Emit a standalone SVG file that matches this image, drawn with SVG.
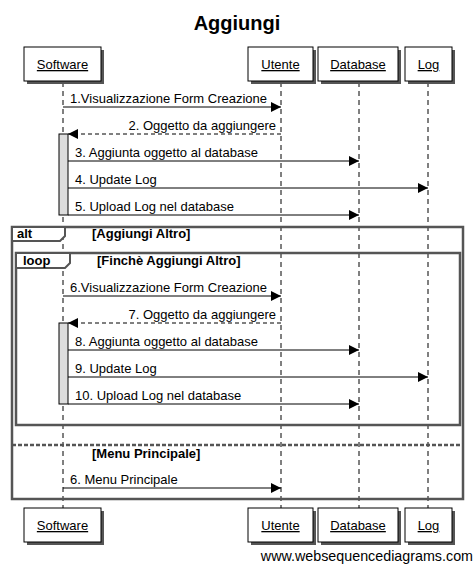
<svg xmlns="http://www.w3.org/2000/svg" width="474" height="565" viewBox="0 0 474 565">
<style>
text{font-family:"Liberation Sans",Arial,sans-serif;fill:#000}
.t{font-size:20px;font-weight:bold}
.p{font-size:13px;text-decoration:underline}
.m{font-size:13px}
.b{font-size:13px;font-weight:bold}
.w{font-size:14.3px}
.box{fill:#fff;stroke:#000;stroke-width:1}
.sh{fill:#555}
.life{stroke:#000;stroke-width:1;stroke-dasharray:5,4;fill:none}
.msg{stroke:#000;stroke-width:1;fill:none}
.dash{stroke:#000;stroke-width:1;stroke-dasharray:4,3;fill:none}
.act{fill:#ddd;stroke:#000;stroke-width:1}
.fr{fill:none;stroke:#555;stroke-width:2.5}
.tab{fill:#fff;stroke:#555;stroke-width:2}
.els{stroke:#555;stroke-width:2.5;stroke-dasharray:4,2}
</style>
<defs>
<marker id="ah" viewBox="0 0 10 10" refX="10" refY="5" markerWidth="10" markerHeight="10" markerUnits="userSpaceOnUse" orient="auto">
<path d="M0,0 L10,5 L0,10 z" fill="#000"/>
</marker>
</defs>
<text class="t" x="237" y="30" text-anchor="middle">Aggiungi</text>
<g id="lifelines">
<line class="life" x1="63" y1="82" x2="63" y2="508"/>
<line class="life" x1="281" y1="82" x2="281" y2="508"/>
<line class="life" x1="359" y1="82" x2="359" y2="508"/>
<line class="life" x1="428" y1="82" x2="428" y2="508"/>
</g>
<g id="frames">
<rect class="fr" x="12" y="227" width="451" height="272"/>
<path class="tab" d="M12,227 H65 V236 L60,241 H12 Z"/>
<text class="b" x="17" y="238">alt</text>
<text class="b" x="92" y="238">[Aggiungi Altro]</text>
<rect class="fr" x="16" y="253" width="444" height="172"/>
<path class="tab" d="M16,253 H70 V263 L65,268 H16 Z"/>
<text class="b" x="23" y="265">loop</text>
<text class="b" x="97" y="265">[Finchè Aggiungi Altro]</text>
<line class="els" x1="12" y1="445" x2="463" y2="445"/>
<text class="b" x="92" y="458">[Menu Principale]</text>
</g>
<g id="activations">
<rect class="act" x="59" y="134" width="9" height="81"/>
<rect class="act" x="59" y="323" width="9" height="81"/>
</g>
<g id="connectors">
<line class="msg" x1="63" y1="107" x2="281" y2="107" marker-end="url(#ah)"/>
<text class="m" x="70" y="103">1.Visualizzazione Form Creazione</text>
<line class="dash" x1="281" y1="134" x2="68" y2="134" marker-end="url(#ah)"/>
<text class="m" x="276" y="130" text-anchor="end">2. Oggetto da aggiungere</text>
<line class="msg" x1="68" y1="161" x2="359" y2="161" marker-end="url(#ah)"/>
<text class="m" x="75" y="157">3. Aggiunta oggetto al database</text>
<line class="msg" x1="68" y1="188" x2="428" y2="188" marker-end="url(#ah)"/>
<text class="m" x="75" y="184">4. Update Log</text>
<line class="msg" x1="68" y1="215" x2="359" y2="215" marker-end="url(#ah)"/>
<text class="m" x="75" y="211">5. Upload Log nel database</text>
<line class="msg" x1="63" y1="296" x2="281" y2="296" marker-end="url(#ah)"/>
<text class="m" x="70" y="292">6.Visualizzazione Form Creazione</text>
<line class="dash" x1="281" y1="323" x2="68" y2="323" marker-end="url(#ah)"/>
<text class="m" x="276" y="319" text-anchor="end">7. Oggetto da aggiungere</text>
<line class="msg" x1="68" y1="350" x2="359" y2="350" marker-end="url(#ah)"/>
<text class="m" x="75" y="346">8. Aggiunta oggetto al database</text>
<line class="msg" x1="68" y1="377" x2="428" y2="377" marker-end="url(#ah)"/>
<text class="m" x="75" y="373">9. Update Log</text>
<line class="msg" x1="68" y1="404" x2="359" y2="404" marker-end="url(#ah)"/>
<text class="m" x="75" y="400">10. Upload Log nel database</text>
<line class="msg" x1="63" y1="488" x2="281" y2="488" marker-end="url(#ah)"/>
<text class="m" x="70" y="484">6. Menu Principale</text>
</g>
<g id="software-top"><rect class="sh" x="27" y="50" width="77" height="34"/><rect class="box" x="24" y="47" width="77" height="34"/><text class="p" x="62.5" y="69" text-anchor="middle">Software</text></g>
<g id="utente-top"><rect class="sh" x="251" y="50" width="65" height="34"/><rect class="box" x="248" y="47" width="65" height="34"/><text class="p" x="280.5" y="69" text-anchor="middle">Utente</text></g>
<g id="database-top"><rect class="sh" x="321" y="50" width="80" height="34"/><rect class="box" x="318" y="47" width="80" height="34"/><text class="p" x="358" y="69" text-anchor="middle">Database</text></g>
<g id="log-top"><rect class="sh" x="408" y="50" width="47" height="34"/><rect class="box" x="405" y="47" width="47" height="34"/><text class="p" x="428.5" y="69" text-anchor="middle">Log</text></g>
<g id="software-bottom"><rect class="sh" x="27" y="511" width="77" height="34"/><rect class="box" x="24" y="508" width="77" height="34"/><text class="p" x="62.5" y="530" text-anchor="middle">Software</text></g>
<g id="utente-bottom"><rect class="sh" x="251" y="511" width="65" height="34"/><rect class="box" x="248" y="508" width="65" height="34"/><text class="p" x="280.5" y="530" text-anchor="middle">Utente</text></g>
<g id="database-bottom"><rect class="sh" x="321" y="511" width="80" height="34"/><rect class="box" x="318" y="508" width="80" height="34"/><text class="p" x="358" y="530" text-anchor="middle">Database</text></g>
<g id="log-bottom"><rect class="sh" x="408" y="511" width="47" height="34"/><rect class="box" x="405" y="508" width="47" height="34"/><text class="p" x="428.5" y="530" text-anchor="middle">Log</text></g>
<text class="w" x="473" y="561" text-anchor="end">www.websequencediagrams.com</text>
</svg>
